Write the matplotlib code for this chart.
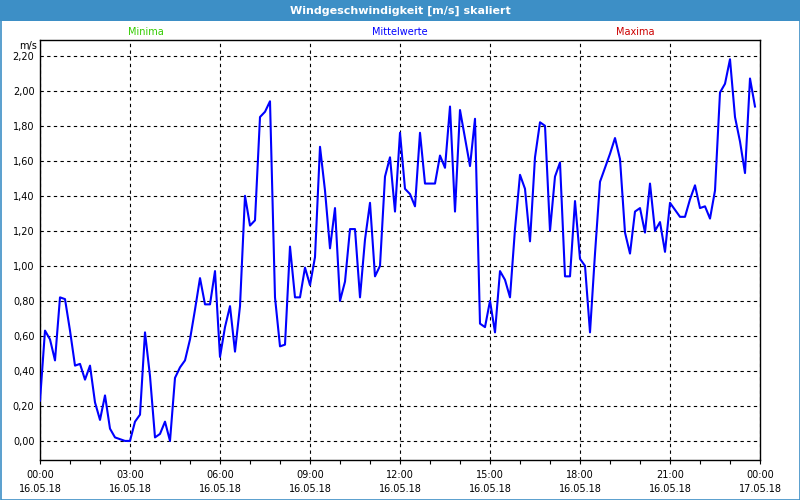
import matplotlib.pyplot as plt
from matplotlib.patches import Rectangle
from matplotlib.ticker import MultipleLocator, FuncFormatter
import numpy as np

# Daten: Windgeschwindigkeit (Mittelwerte) alle 10 Minuten
title = "Windgeschwindigkeit [m/s] skaliert"
series_names = ["Minima", "Mittelwerte", "Maxima"]
series_colors = ["#33cc00", "#0000ff", "#cc0000"]
step_minutes = 10
wind = [0.23, 0.63, 0.58, 0.46, 0.82, 0.81, 0.63, 0.43, 0.44, 0.35,
        0.43, 0.22, 0.12, 0.26, 0.07, 0.02, 0.01, 0.00, 0.00, 0.11,
        0.15, 0.62, 0.37, 0.02, 0.04, 0.11, 0.00, 0.36, 0.42, 0.46,
        0.58, 0.75, 0.93, 0.78, 0.78, 0.97, 0.48, 0.65, 0.77, 0.51,
        0.77, 1.40, 1.23, 1.26, 1.85, 1.88, 1.94, 0.82, 0.54, 0.55,
        1.11, 0.82, 0.82, 0.99, 0.89, 1.05, 1.68, 1.43, 1.10, 1.33,
        0.80, 0.91, 1.21, 1.21, 0.82, 1.15, 1.36, 0.94, 1.00, 1.51,
        1.62, 1.31, 1.76, 1.44, 1.41, 1.34, 1.76, 1.47, 1.47, 1.47,
        1.63, 1.56, 1.91, 1.31, 1.89, 1.73, 1.57, 1.84, 0.67, 0.65,
        0.80, 0.62, 0.97, 0.92, 0.82, 1.21, 1.52, 1.44, 1.14, 1.62,
        1.82, 1.80, 1.20, 1.51, 1.59, 0.94, 0.94, 1.37, 1.04, 1.00,
        0.62, 1.07, 1.48, 1.56, 1.64, 1.73, 1.61, 1.19, 1.07, 1.31,
        1.33, 1.19, 1.47, 1.20, 1.25, 1.08, 1.36, 1.32, 1.28, 1.28,
        1.38, 1.46, 1.33, 1.34, 1.27, 1.43, 1.99, 2.04, 2.18, 1.85,
        1.71, 1.53, 2.07, 1.91]
tick_times = ["00:00", "03:00", "06:00", "09:00", "12:00",
              "15:00", "18:00", "21:00", "00:00"]
tick_dates = ["16.05.18"] * 8 + ["17.05.18"]

hours = np.arange(len(wind)) * step_minutes / 60.0

fig = plt.figure(figsize=(8, 5), dpi=100)
fig.patch.set_facecolor("white")
frame_col = "#3d8fc6"

# Titelleiste und Rahmen
fig.patches.append(Rectangle((0, 1 - 21 / 500), 1, 21 / 500, transform=fig.transFigure,
                             facecolor=frame_col, edgecolor="none", zorder=0))
fig.patches.append(Rectangle((0.5 / 800, 0.5 / 500), 1 - 1 / 800, 1 - 1 / 500,
                             transform=fig.transFigure, facecolor="none",
                             edgecolor=frame_col, linewidth=1.2, zorder=5))
fig.text(0.5, 1 - 11 / 500, title, color="white", fontsize=8, fontweight="bold",
         ha="center", va="center")

ax = fig.add_axes([40 / 800, 40 / 500, 720 / 800, 420 / 500])
ax.plot(hours, wind, color=series_colors[1], linewidth=1.5, zorder=3)

ax.set_xlim(0, 24)
ax.set_ylim(-0.109, 2.29)

ax.xaxis.set_major_locator(MultipleLocator(3))
ax.xaxis.set_minor_locator(MultipleLocator(1))
ax.set_xticks(np.arange(0, 25, 3))
ax.set_xticklabels([t + "\n" + d for t, d in zip(tick_times, tick_dates)])
plt.setp(ax.get_xticklabels(), linespacing=1.5)
ax.tick_params(axis="x", which="both", direction="out", length=3, width=0.8,
               labelsize=7, pad=4)

ax.yaxis.set_major_locator(MultipleLocator(0.2))
ax.set_yticks(np.arange(0, 2.21, 0.2))
ax.yaxis.set_major_formatter(FuncFormatter(lambda v, p: ("%.2f" % v).replace(".", ",")))
ax.tick_params(axis="y", length=0, labelsize=7, pad=4)

ax.grid(True, which="major", color="black", linestyle=(0, (3, 3)), linewidth=0.8)
for s in ax.spines.values():
    s.set_color("black")
    s.set_linewidth(1.0)

fig.text(28 / 800, 1 - 46 / 500, "m/s", fontsize=7, ha="center", va="center")

# Legenden-Beschriftungen oberhalb
for name, col, xpix in zip(series_names, series_colors, [146, 400, 635]):
    fig.text(xpix / 800, 1 - 32 / 500, name, color=col, fontsize=7,
             ha="center", va="center")

fig.savefig("out.png", dpi=100)
